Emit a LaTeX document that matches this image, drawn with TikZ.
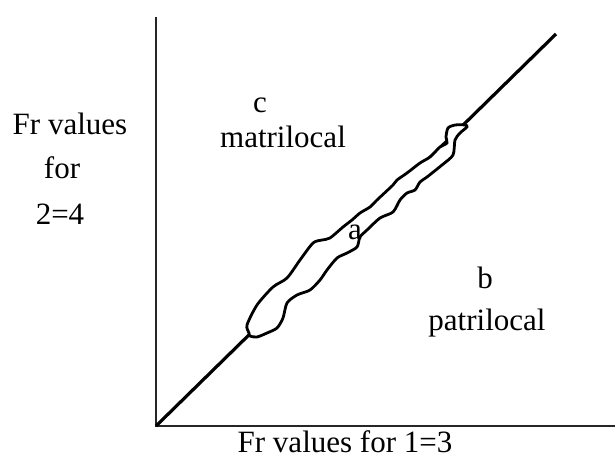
\documentclass[tikz,border=0pt]{standalone}
\usepackage{fontspec}
\setmainfont{Liberation Serif}
\usetikzlibrary{positioning}

\begin{document}
\begin{tikzpicture}[x=1pt,y=-1pt,
    axis/.style  = {line width=2.2pt,black!85},
    diag/.style  = {line width=3.2pt,black},
    blob/.style  = {line width=2.8pt,black,fill=white},
    lab/.style   = {font=\fontsize{31}{36}\selectfont,inner sep=0pt},
  ]
  \useasboundingbox (0,0) rectangle (615,460);

  \coordinate (origin) at (156,426);
  \coordinate (ytop)   at (156,17);
  \coordinate (xend)   at (615,426);
  \coordinate (dend)   at (556,34);

  % axes
  \draw[axis] (ytop) -- (origin) -- (xend);
  \draw[diag] (origin) -- (dend);

  % region a
  \draw[blob] plot[smooth cycle,tension=0.45] coordinates {
      (249,333) (247,325) (257,305) (273,287) (287,278) (300,260)
      (313,243) (322,240) (330,238) (343,227) (352,220) (360,213)
      (370,207) (377,200) (393,185) (397,180) (407,173) (420,163)
      (430,157) (440,147) (447,143) (446,137) (448,128) (455,125)
      (465,125) (467,127) (460,133) (455,140) (453,155) (442,165)
      (427,177) (420,182) (415,190) (407,193) (400,200) (393,212)
      (380,218) (367,230) (360,237) (357,247) (347,253) (337,258)
      (327,270) (320,280) (310,290) (297,295) (287,303) (283,318)
      (277,328) (267,333) (257,337) (250,336)};

  \node[lab] (ylab1) at (70,124) {Fr values};
  \node[lab] (ylab2) at (62,168) {for};
  \node[lab] (ylab3) at (60,214) {2=4};
  \node[lab] (xlab)  at (345,442) {Fr values for 1=3};

  \node[lab] (cc)    at (260,105) {c};
  \node[lab] (matri) at (283,137) {matrilocal};
  \node[lab] (aa)    at (355,232) {a};
  \node[lab] (bb)    at (485,278) {b};
  \node[lab] (patri) at (487,323) {patrilocal};
\end{tikzpicture}
\end{document}
